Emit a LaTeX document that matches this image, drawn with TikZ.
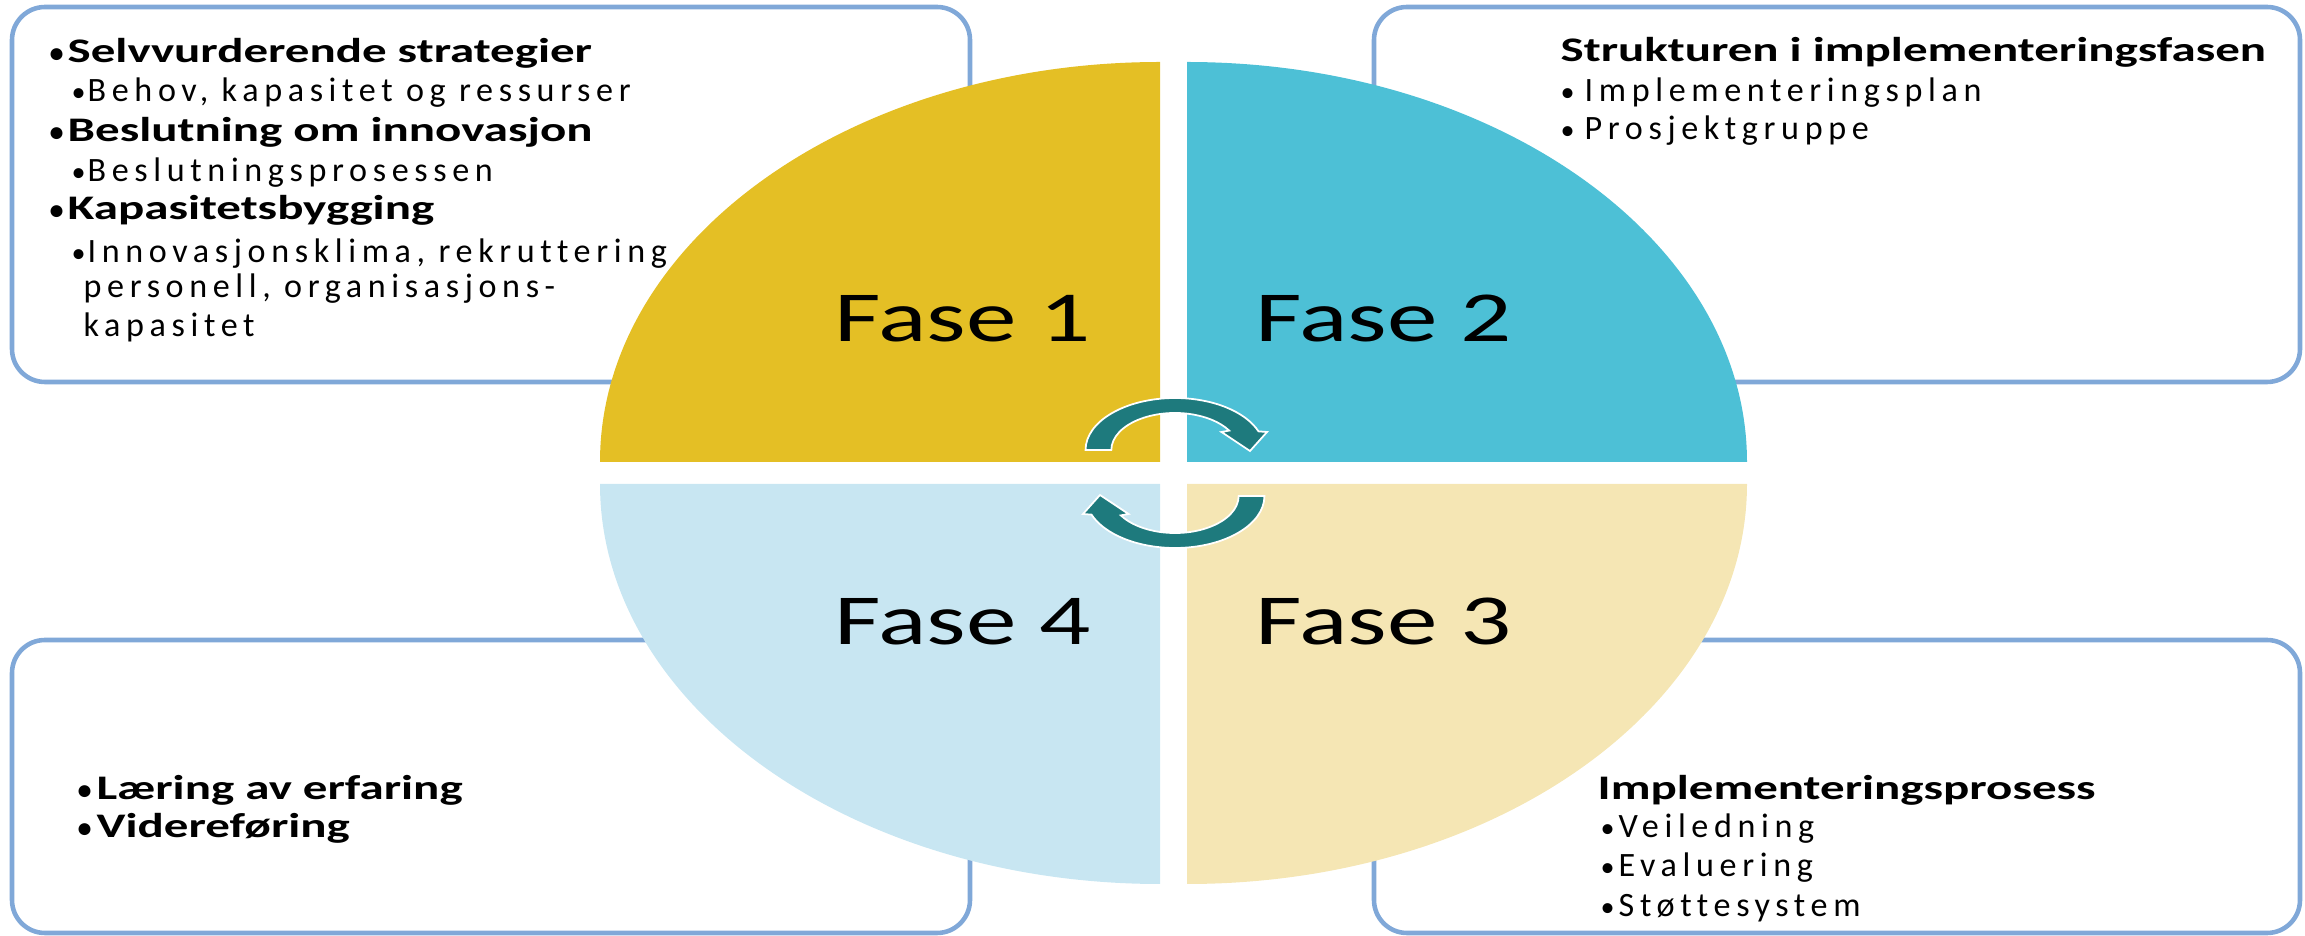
\documentclass[tikz,border=0pt]{standalone}
\usepackage{fontspec}
\setmainfont{Carlito}
\newfontfamily\widefont[FakeStretch=1.42]{Carlito}
\newfontfamily\fasefont[FakeStretch=1.41]{Carlito}
\newfontfamily\spacedfont[LetterSpace=16.5, Ligatures={NoCommon}]{Carlito}
\newfontfamily\dotfont{Carlito}
\usepackage{tikz}
\usetikzlibrary{positioning}

\definecolor{fasegold}{RGB}{228,191,37}
\definecolor{fasecyan}{RGB}{77,192,214}
\definecolor{fasesand}{RGB}{245,230,180}
\definecolor{fasesky}{RGB}{200,230,242}
\definecolor{panelblue}{RGB}{128,168,216}
\definecolor{turnteal}{RGB}{30,122,125}

\newcommand{\bul}[1]{\makebox[#1][l]{\dotfont\fontsize{8}{8}\selectfont\textbullet}}

\begin{document}
\begin{tikzpicture}[
    x=0.01cm, y=0.01cm,
    panel/.style={draw=panelblue, line width=1.3pt, rounded corners=0.33cm},
    head/.style={anchor=base west, inner sep=0pt, font=\widefont\bfseries\fontsize{9.8}{11}\selectfont},
    item/.style={anchor=base west, inner sep=0pt, font=\spacedfont\fontsize{9.7}{11}\selectfont},
    fase/.style={anchor=base west, inner sep=0pt, font=\fasefont\fontsize{20.4}{24}\selectfont},
    turn/.style={fill=turnteal, draw=white, line width=0.5pt}
]
\useasboundingbox (0,0) rectangle (2305,936);

% text panels
\draw[panel] (12,554) rectangle (970,929);
\draw[panel] (1374,554) rectangle (2300,929);
\draw[panel] (12,3) rectangle (970,296);
\draw[panel] (1374,3) rectangle (2300,296);

% the four phases
\fill[fasegold] (1160,474) -- (600,474) arc[start angle=180, end angle=90, x radius=560, y radius=400] -- cycle;
\fill[fasecyan] (1187,474) -- (1187,874) arc[start angle=90, end angle=0, x radius=560, y radius=400] -- cycle;
\fill[fasesand] (1187,452) -- (1747,452) arc[start angle=0, end angle=-90, x radius=560, y radius=400] -- cycle;
\fill[fasesky] (1160,452) -- (1160,52) arc[start angle=270, end angle=180, x radius=560, y radius=400] -- cycle;

\node[fase] (fase1) at (834,594) {Fase 1};
\node[fase] (fase2) at (1255,594) {Fase 2};
\node[fase] (fase3) at (1255,291) {Fase 3};
\node[fase] (fase4) at (834,291) {Fase 4};

% cycle arrows
\begin{scope}[shift={(1175,486)}, xscale=1.72]
\draw[turn] (-52,0) arc[start angle=180, end angle=21, radius=52] -- (53.5,18) -- (43.6,-1) -- (27,18) -- (31.5,19.4) arc[start angle=31.6, end angle=180, radius=37] -- cycle;
\end{scope}
\begin{scope}[shift={(1175,440)}, xscale=1.72, rotate=180]
\draw[turn] (-52,0) arc[start angle=180, end angle=21, radius=52] -- (53.5,18) -- (43.6,-1) -- (27,18) -- (31.5,19.4) arc[start angle=31.6, end angle=180, radius=37] -- cycle;
\end{scope}

% Fase 1 panel
\node[head] (selv) at (49,873) {\bul{0.18cm}Selvvurderende strategier};
\node[item] (behov) at (71,834) {\bul{0.16cm}Behov, kapasitet og ressurser};
\node[head] (beslut) at (49,794) {\bul{0.18cm}Beslutning om innovasjon};
\node[item] (prosess) at (71,754) {\bul{0.16cm}Beslutningsprosessen};
\node[head] (kapbyg) at (49,716) {\bul{0.18cm}Kapasitetsbygging};
\node[item] (klima) at (71,673) {\bul{0.16cm}Innovasjonsklima, rekruttering};
\node[item] (personell) at (83,638) {personell, organisasjons-};
\node[item] (kapasitet) at (83,599) {kapasitet};

% Fase 2 panel
\node[head] (struktur) at (1560,874) {Strukturen i implementeringsfasen};
\node[item] (plan) at (1560,834) {\bul{0.24cm}Implementeringsplan};
\node[item] (gruppe) at (1560,796) {\bul{0.24cm}Prosjektgruppe};

% Fase 3 panel
\node[head] (implprosess) at (1597,136) {Implementeringsprosess};
\node[item] (veiledning) at (1600,98) {\bul{0.18cm}Veiledning};
\node[item] (evaluering) at (1600,59) {\bul{0.18cm}Evaluering};
\node[item] (stotte) at (1600,19) {\bul{0.18cm}Støttesystem};

% Fase 4 panel
\node[head] (laering) at (77,136) {\bul{0.19cm}Læring av erfaring};
\node[head] (videre) at (77,98) {\bul{0.19cm}Videreføring};

\end{tikzpicture}
\end{document}
